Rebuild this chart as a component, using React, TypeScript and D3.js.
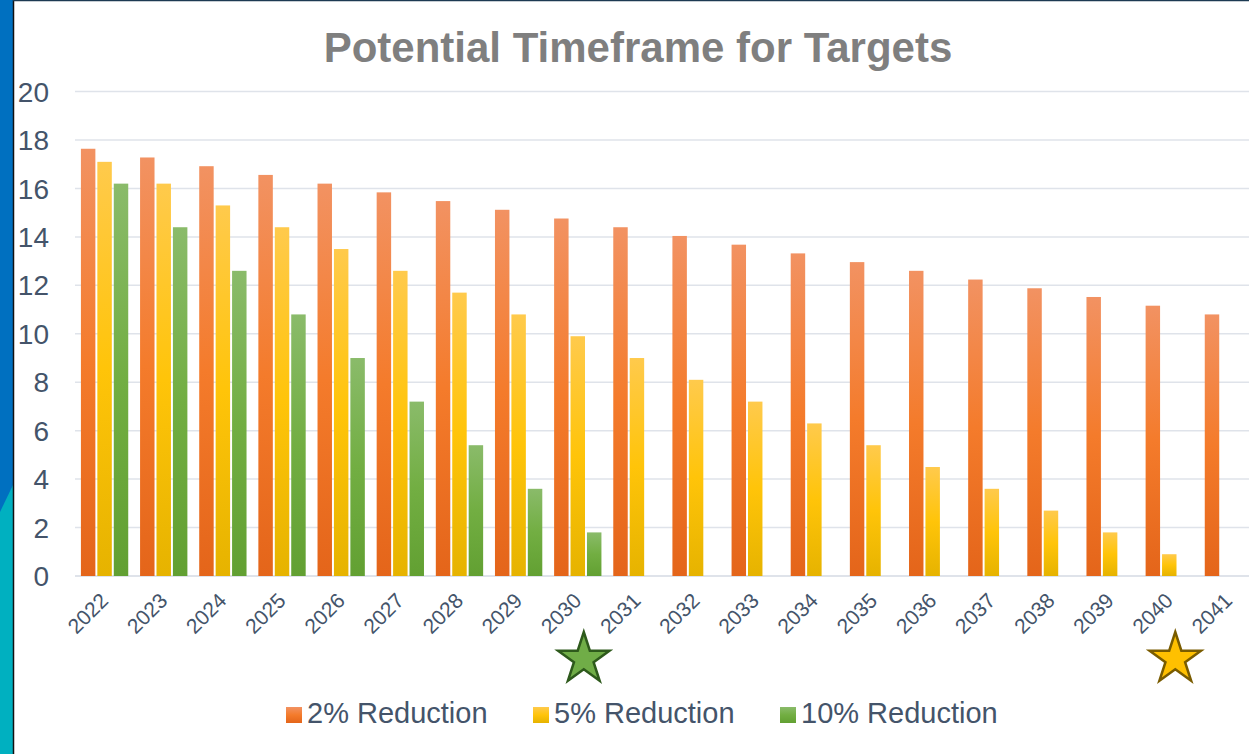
import * as d3 from "d3";

const years = [
  "2022", "2023", "2024", "2025", "2026", "2027", "2028", "2029", "2030", "2031",
  "2032", "2033", "2034", "2035", "2036", "2037", "2038", "2039", "2040", "2041",
];
const red2 = [17.64, 17.28, 16.92, 16.56, 16.2, 15.84, 15.48, 15.12, 14.76, 14.4, 14.04, 13.68, 13.32, 12.96, 12.6, 12.24, 11.88, 11.52, 11.16, 10.8];
const red5 = [17.1, 16.2, 15.3, 14.4, 13.5, 12.6, 11.7, 10.8, 9.9, 9.0, 8.1, 7.2, 6.3, 5.4, 4.5, 3.6, 2.7, 1.8, 0.9, 0];
const red10 = [16.2, 14.4, 12.6, 10.8, 9.0, 7.2, 5.4, 3.6, 1.8, 0, 0, 0, 0, 0, 0, 0, 0, 0, 0, 0];
const seriesNames = ["2% Reduction", "5% Reduction", "10% Reduction"];
const yTicks = [0, 2, 4, 6, 8, 10, 12, 14, 16, 18, 20];
const starYears = ["2030", "2040"];

const W = 1249;
const H = 754;
const FONT = "'Liberation Sans', Arial, sans-serif";
const TXT = "#44546a";

const gradients = [
  { id: "gOrange", stops: ["#f29262", "#f47b2b", "#e4651a"] },
  { id: "gYellow", stops: ["#ffca4c", "#ffc409", "#e6b300"] },
  { id: "gGreen", stops: ["#8abb6a", "#72ae42", "#62a032"] },
];
const starStyles = [
  { fill: "#70ad47", stroke: "#2e5a1c" },
  { fill: "#ffc000", stroke: "#7a5c00" },
];
const legendX = [286, 533, 780];

function starPath(cx: number, cy: number, R: number) {
  const r = R * 0.382;
  const pts: [number, number][] = [];
  for (let i = 0; i < 10; i++) {
    const a = -Math.PI / 2 + (i * Math.PI) / 5;
    const rad = i % 2 === 0 ? R : r;
    pts.push([cx + rad * Math.cos(a), cy + rad * Math.sin(a)]);
  }
  return d3.line()(pts) + "Z";
}

export default function App() {
  const series = [red2, red5, red10];

  const x = d3.scaleBand<string>()
    .domain(years)
    .range([75, 1258])
    .paddingInner(0.2)
    .paddingOuter(0.1);
  const xi = d3.scaleBand<number>()
    .domain([0, 1, 2])
    .range([0, x.bandwidth()])
    .paddingInner(0.12);
  const y = d3.scaleLinear().domain([0, 20]).range([576, 91.6]);

  return (
    <svg width={W} height={H} style={{ position: "absolute", left: 0, top: 0 }} fontFamily={FONT}>
      <defs>
        {gradients.map(g => (
          <linearGradient key={g.id} id={g.id} x1="0" y1="0" x2="0" y2="1">
            <stop offset="0%" stopColor={g.stops[0]} />
            <stop offset="50%" stopColor={g.stops[1]} />
            <stop offset="100%" stopColor={g.stops[2]} />
          </linearGradient>
        ))}
      </defs>

      {/* slide background */}
      <rect x={0} y={0} width={W} height={H} fill="#fff" />
      <rect x={0} y={0} width={14} height={H} fill="#0070c0" />
      <polygon points="13,485 0,512 0,754 13,754" fill="#00b0c0" />
      <line x1={13.5} x2={13.5} y1={0} y2={H} stroke="#111" strokeWidth={1.5} />
      <line x1={13} x2={W} y1={0.5} y2={0.5} stroke="#1c3a52" strokeWidth={1.5} />

      <text x={638} y={62} textAnchor="middle" fontSize={42} fontWeight="bold" fill="#7f7f7f">
        Potential Timeframe for Targets
      </text>

      {/* grid */}
      {yTicks.map(t => (
        <g key={t}>
          <line x1={75} x2={W} y1={y(t)} y2={y(t)} stroke="#dfe3ea" strokeWidth={t === 0 ? 2 : 1.5} />
          <text x={49} y={y(t)} dy="0.36em" textAnchor="end" fontSize={28} fill={TXT}>{t}</text>
        </g>
      ))}

      {/* bars */}
      {years.map((yr, i) => (
        <g key={yr} transform={`translate(${x(yr)},0)`}>
          {series.map((s, k) => s[i] > 0 ? (
            <rect key={k} x={xi(k)} width={xi.bandwidth()} y={y(s[i])} height={y(0) - y(s[i])}
              fill={`url(#${gradients[k].id})`} />
          ) : null)}
        </g>
      ))}

      {/* x labels */}
      {years.map(yr => {
        const cx = x(yr)! + x.bandwidth() / 2 + 5;
        return (
          <text key={yr} transform={`translate(${cx},602) rotate(-45)`} textAnchor="end"
            fontSize={21} fill={TXT}>{yr}</text>
        );
      })}

      {/* stars */}
      {starYears.map((yr, k) => (
        <path key={yr} d={starPath(x(yr)! + x.bandwidth() / 2 + 6, 659, 27)}
          fill={starStyles[k].fill} stroke={starStyles[k].stroke} strokeWidth={2.5} strokeLinejoin="miter" />
      ))}

      {/* legend */}
      {seriesNames.map((n, k) => (
        <g key={n} transform={`translate(${legendX[k]},707)`}>
          <rect width={16} height={16} fill={`url(#${gradients[k].id})`} />
          <text x={21} y={16} fontSize={29} fill={TXT}>{n}</text>
        </g>
      ))}
    </svg>
  );
}
